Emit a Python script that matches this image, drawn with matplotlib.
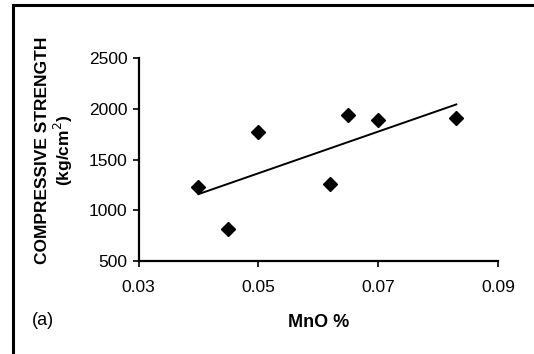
import matplotlib.pyplot as plt
from matplotlib.lines import Line2D

plt.rcParams['font.family'] = ['Liberation Sans', 'DejaVu Sans']

# data
mno = [0.040, 0.045, 0.050, 0.062, 0.065, 0.070, 0.083]
strength = [1233, 813, 1777, 1260, 1941, 1891, 1908]
trend_x = [0.040, 0.083]
trend_y = [1160, 2045]
xticks = [0.03, 0.05, 0.07, 0.09]
xtick_labels = ["0.03", "0.05", "0.07", "0.09"]
yticks = [500, 1000, 1500, 2000, 2500]

fig = plt.figure(figsize=(5.34, 3.54), dpi=100)
ax = fig.add_axes([0.2594, 0.2627, 0.6737, 0.5726])

ax.plot(mno, strength, 'D', color='black', markersize=7, linestyle='none')
ax.plot(trend_x, trend_y, color='black', lw=1.4)

ax.set_xlim(0.03, 0.09)
ax.set_ylim(500, 2500)
ax.set_xticks(xticks)
ax.set_xticklabels(xtick_labels)
ax.set_yticks(yticks)

for s in ['top', 'right']:
    ax.spines[s].set_visible(False)
for s in ['left', 'bottom']:
    ax.spines[s].set_linewidth(1.6)
ax.tick_params(direction='out', length=4, width=1.2, labelsize=12.5, pad=4)
ax.tick_params(axis='x', pad=10)

fig.text(0.103, 0.575, "COMPRESSIVE STRENGTH\n(kg/cm$^2$)", rotation=90,
         ha='center', va='center', fontsize=12.5, fontweight='bold', linespacing=1.1)
fig.text(0.596, 0.09, "MnO %", ha='center', va='center', fontsize=13, fontweight='bold')
fig.text(0.08, 0.095, "(a)", ha='center', va='center', fontsize=13)

# frame of the scanned figure
fig.add_artist(Line2D([0.025, 0.025], [0.0, 0.985], transform=fig.transFigure,
                      color='black', lw=2.2))
fig.add_artist(Line2D([0.025, 1.0], [0.985, 0.985], transform=fig.transFigure,
                      color='black', lw=2.2))

fig.savefig("out.png", dpi=100)
